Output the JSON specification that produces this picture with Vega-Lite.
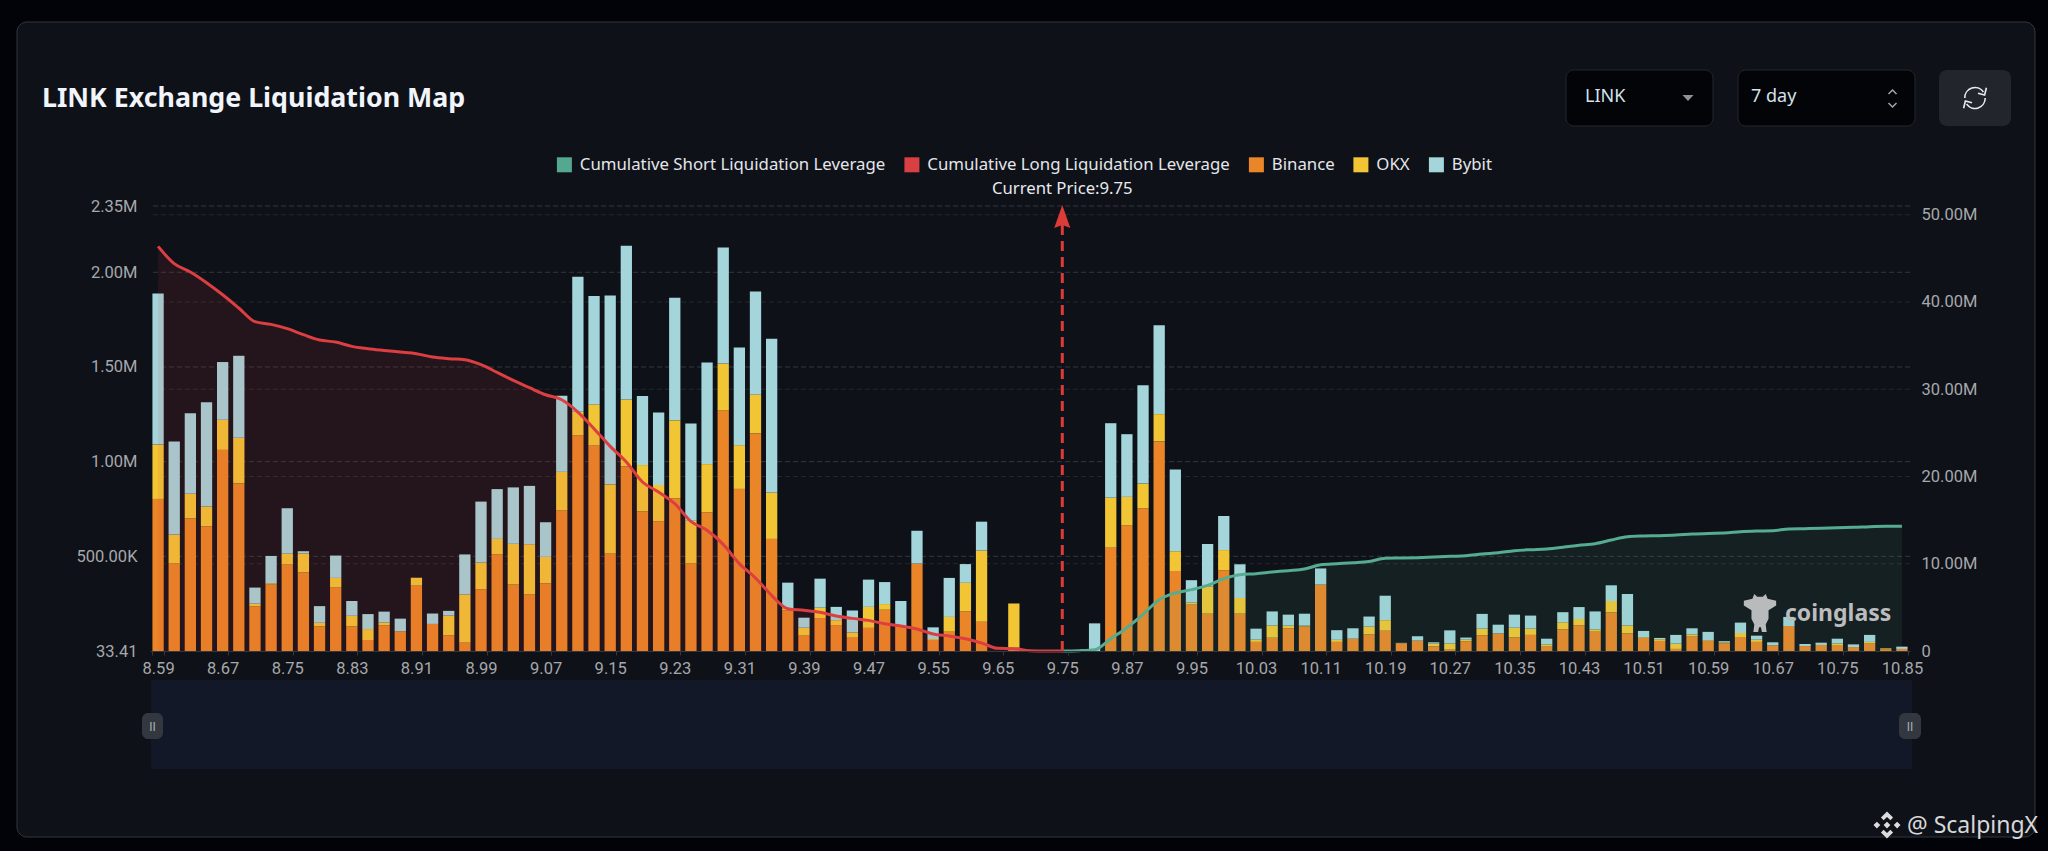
{
  "$schema": "https://vega.github.io/schema/vega-lite/v6.json",
  "width": 1760,
  "height": 445,
  "autosize": "none",
  "padding": {"left": 150, "top": 206, "right": 138, "bottom": 200},
  "background": "#020308",
  "title": {
    "text": "LINK Exchange Liquidation Map",
    "anchor": "start",
    "frame": "group",
    "dx": -108,
    "offset": -91.5,
    "font": "Noto Sans",
    "fontSize": 26.75,
    "fontWeight": 700,
    "color": "#f1f4fa"
  },
  "datasets": {
    "liq": [
      {"price":"8.59","Binance":803000,"OKX":287000,"Bybit":798000,"long":46370000},
      {"price":"8.61","Binance":462000,"OKX":153000,"Bybit":492000,"long":44390000},
      {"price":"8.63","Binance":700000,"OKX":130000,"Bybit":425000,"long":43430000},
      {"price":"8.65","Binance":659000,"OKX":104000,"Bybit":550000,"long":42210000},
      {"price":"8.67","Binance":1062000,"OKX":159000,"Bybit":305000,"long":40830000},
      {"price":"8.69","Binance":885000,"OKX":241000,"Bybit":433000,"long":39310000},
      {"price":"8.71","Binance":236000,"OKX":14000,"Bybit":85000,"long":37740000},
      {"price":"8.73","Binance":351000,"OKX":7000,"Bybit":144000,"long":37430000},
      {"price":"8.75","Binance":456000,"OKX":58000,"Bybit":240000,"long":36940000},
      {"price":"8.77","Binance":416000,"OKX":99000,"Bybit":12000,"long":36250000},
      {"price":"8.79","Binance":130000,"OKX":19000,"Bybit":88000,"long":35640000},
      {"price":"8.81","Binance":335000,"OKX":51000,"Bybit":118000,"long":35410000},
      {"price":"8.83","Binance":130000,"OKX":56000,"Bybit":78000,"long":34910000},
      {"price":"8.85","Binance":58000,"OKX":58000,"Bybit":79000,"long":34650000},
      {"price":"8.87","Binance":136000,"OKX":14000,"Bybit":58000,"long":34450000},
      {"price":"8.89","Binance":104000,"OKX":0,"Bybit":67000,"long":34260000},
      {"price":"8.91","Binance":345000,"OKX":42000,"Bybit":0,"long":34070000},
      {"price":"8.93","Binance":143000,"OKX":0,"Bybit":55000,"long":33690000},
      {"price":"8.95","Binance":83000,"OKX":104000,"Bybit":25000,"long":33500000},
      {"price":"8.97","Binance":44000,"OKX":255000,"Bybit":211000,"long":33380000},
      {"price":"8.99","Binance":326000,"OKX":141000,"Bybit":322000,"long":32810000},
      {"price":"9.01","Binance":511000,"OKX":81000,"Bybit":263000,"long":31930000},
      {"price":"9.03","Binance":351000,"OKX":215000,"Bybit":298000,"long":31020000},
      {"price":"9.05","Binance":300000,"OKX":264000,"Bybit":308000,"long":30180000},
      {"price":"9.07","Binance":358000,"OKX":139000,"Bybit":183000,"long":29370000},
      {"price":"9.09","Binance":742000,"OKX":204000,"Bybit":402000,"long":28800000},
      {"price":"9.11","Binance":1138000,"OKX":125000,"Bybit":714000,"long":27390000},
      {"price":"9.13","Binance":1085000,"OKX":217000,"Bybit":573000,"long":25480000},
      {"price":"9.15","Binance":514000,"OKX":366000,"Bybit":997000,"long":23450000},
      {"price":"9.17","Binance":976000,"OKX":352000,"Bybit":812000,"long":21660000},
      {"price":"9.19","Binance":737000,"OKX":245000,"Bybit":365000,"long":19370000},
      {"price":"9.21","Binance":685000,"OKX":192000,"Bybit":382000,"long":18220000},
      {"price":"9.23","Binance":807000,"OKX":411000,"Bybit":648000,"long":16880000},
      {"price":"9.25","Binance":462000,"OKX":226000,"Bybit":513000,"long":14860000},
      {"price":"9.27","Binance":733000,"OKX":254000,"Bybit":537000,"long":13830000},
      {"price":"9.29","Binance":1270000,"OKX":248000,"Bybit":613000,"long":12220000},
      {"price":"9.31","Binance":856000,"OKX":231000,"Bybit":516000,"long":10010000},
      {"price":"9.33","Binance":1149000,"OKX":206000,"Bybit":543000,"long":8370000},
      {"price":"9.35","Binance":592000,"OKX":245000,"Bybit":812000,"long":6380000},
      {"price":"9.37","Binance":215000,"OKX":9000,"Bybit":137000,"long":4850000},
      {"price":"9.39","Binance":81000,"OKX":42000,"Bybit":53000,"long":4660000},
      {"price":"9.41","Binance":174000,"OKX":55000,"Bybit":153000,"long":4430000},
      {"price":"9.43","Binance":137000,"OKX":26000,"Bybit":70000,"long":4010000},
      {"price":"9.45","Binance":70000,"OKX":28000,"Bybit":116000,"long":3740000},
      {"price":"9.47","Binance":122000,"OKX":111000,"Bybit":144000,"long":3510000},
      {"price":"9.49","Binance":218000,"OKX":30000,"Bybit":116000,"long":3130000},
      {"price":"9.51","Binance":127000,"OKX":0,"Bybit":137000,"long":2860000},
      {"price":"9.53","Binance":462000,"OKX":0,"Bybit":173000,"long":2520000},
      {"price":"9.55","Binance":58000,"OKX":5000,"Bybit":62000,"long":1950000},
      {"price":"9.57","Binance":102000,"OKX":78000,"Bybit":206000,"long":1720000},
      {"price":"9.59","Binance":210000,"OKX":150000,"Bybit":99000,"long":1410000},
      {"price":"9.61","Binance":155000,"OKX":375000,"Bybit":153000,"long":920000},
      {"price":"9.65","Binance":0,"OKX":0,"Bybit":0,"long":310000},
      {"price":"9.67","Binance":18000,"OKX":233000,"Bybit":0,"long":270000},
      {"price":"9.69","Binance":0,"OKX":0,"Bybit":0,"long":40000},
      {"price":"9.71","Binance":0,"OKX":0,"Bybit":0,"long":0},
      {"price":"9.75","Binance":0,"OKX":0,"Bybit":0,"long":0,"short":0},
      {"price":"9.78","Binance":0,"OKX":0,"Bybit":0,"short":40000},
      {"price":"9.81","Binance":0,"OKX":0,"Bybit":146000,"short":150000},
      {"price":"9.84","Binance":546000,"OKX":264000,"Bybit":393000,"short":1410000},
      {"price":"9.87","Binance":664000,"OKX":150000,"Bybit":331000,"short":2670000},
      {"price":"9.89","Binance":754000,"OKX":130000,"Bybit":520000,"short":4200000},
      {"price":"9.91","Binance":1107000,"OKX":144000,"Bybit":469000,"short":5880000},
      {"price":"9.93","Binance":423000,"OKX":104000,"Bybit":432000,"short":6650000},
      {"price":"9.95","Binance":245000,"OKX":11000,"Bybit":118000,"short":7030000},
      {"price":"9.97","Binance":197000,"OKX":144000,"Bybit":224000,"short":7520000},
      {"price":"9.99","Binance":426000,"OKX":107000,"Bybit":180000,"short":8290000},
      {"price":"10.01","Binance":197000,"OKX":83000,"Bybit":178000,"short":8750000},
      {"price":"10.03","Binance":48000,"OKX":12000,"Bybit":58000,"short":8860000},
      {"price":"10.05","Binance":70000,"OKX":65000,"Bybit":74000,"short":9050000},
      {"price":"10.07","Binance":120000,"OKX":14000,"Bybit":58000,"short":9210000},
      {"price":"10.09","Binance":130000,"OKX":4000,"Bybit":63000,"short":9400000},
      {"price":"10.11","Binance":351000,"OKX":0,"Bybit":85000,"short":9890000},
      {"price":"10.13","Binance":48000,"OKX":11000,"Bybit":51000,"short":10010000},
      {"price":"10.15","Binance":65000,"OKX":0,"Bybit":55000,"short":10120000},
      {"price":"10.17","Binance":88000,"OKX":41000,"Bybit":53000,"short":10270000},
      {"price":"10.19","Binance":107000,"OKX":56000,"Bybit":129000,"short":10620000},
      {"price":"10.21","Binance":41000,"OKX":0,"Bybit":2000,"short":10660000},
      {"price":"10.23","Binance":55000,"OKX":0,"Bybit":23000,"short":10700000},
      {"price":"10.25","Binance":25000,"OKX":14000,"Bybit":7000,"short":10770000},
      {"price":"10.27","Binance":7000,"OKX":33000,"Bybit":69000,"short":10850000},
      {"price":"10.29","Binance":51000,"OKX":9000,"Bybit":11000,"short":10920000},
      {"price":"10.31","Binance":83000,"OKX":35000,"Bybit":78000,"short":11120000},
      {"price":"10.33","Binance":93000,"OKX":0,"Bybit":46000,"short":11270000},
      {"price":"10.35","Binance":72000,"OKX":51000,"Bybit":69000,"short":11500000},
      {"price":"10.37","Binance":85000,"OKX":33000,"Bybit":69000,"short":11610000},
      {"price":"10.39","Binance":23000,"OKX":12000,"Bybit":30000,"short":11690000},
      {"price":"10.41","Binance":115000,"OKX":37000,"Bybit":53000,"short":11880000},
      {"price":"10.43","Binance":136000,"OKX":33000,"Bybit":63000,"short":12110000},
      {"price":"10.45","Binance":102000,"OKX":12000,"Bybit":95000,"short":12300000},
      {"price":"10.47","Binance":204000,"OKX":60000,"Bybit":83000,"short":12720000},
      {"price":"10.49","Binance":93000,"OKX":42000,"Bybit":166000,"short":13100000},
      {"price":"10.51","Binance":69000,"OKX":4000,"Bybit":33000,"short":13180000},
      {"price":"10.53","Binance":53000,"OKX":9000,"Bybit":7000,"short":13220000},
      {"price":"10.55","Binance":11000,"OKX":28000,"Bybit":46000,"short":13290000},
      {"price":"10.57","Binance":76000,"OKX":12000,"Bybit":32000,"short":13410000},
      {"price":"10.59","Binance":53000,"OKX":4000,"Bybit":44000,"short":13480000},
      {"price":"10.61","Binance":41000,"OKX":4000,"Bybit":7000,"short":13520000},
      {"price":"10.63","Binance":74000,"OKX":21000,"Bybit":55000,"short":13670000},
      {"price":"10.65","Binance":48000,"OKX":12000,"Bybit":21000,"short":13750000},
      {"price":"10.67","Binance":30000,"OKX":0,"Bybit":16000,"short":13790000},
      {"price":"10.69","Binance":132000,"OKX":0,"Bybit":48000,"short":13980000},
      {"price":"10.71","Binance":26000,"OKX":0,"Bybit":11000,"short":14020000},
      {"price":"10.73","Binance":32000,"OKX":0,"Bybit":12000,"short":14060000},
      {"price":"10.75","Binance":28000,"OKX":12000,"Bybit":25000,"short":14130000},
      {"price":"10.77","Binance":21000,"OKX":0,"Bybit":14000,"short":14170000},
      {"price":"10.79","Binance":39000,"OKX":9000,"Bybit":37000,"short":14250000},
      {"price":"10.81","Binance":9000,"OKX":5000,"Bybit":0,"short":14290000},
      {"price":"10.85","Binance":11000,"OKX":0,"Bybit":12000,"short":14290000}
    ]
  },
  "layer": [
    {
      "data": {"values": [{}]},
      "layer": [
        {
          "mark": {"type": "rect", "fill": "#0e1118", "stroke": "#34373d", "strokeWidth": 1, "cornerRadius": 10},
          "encoding": {
            "x": {"datum": 17, "type": "quantitative", "axis": null, "scale": {"domain": [0, 2048], "range": [-150, 1898], "nice": false, "zero": false}},
            "x2": {"datum": 2035},
            "y": {"datum": 22, "type": "quantitative", "axis": null, "scale": {"domain": [0, 851], "range": [-206, 645], "nice": false, "zero": false}},
            "y2": {"datum": 837}
          }
        },
        {
          "mark": {"type": "rect", "fill": "#121827"},
          "encoding": {
            "x": {"datum": 151, "type": "quantitative", "axis": null},
            "x2": {"datum": 1912},
            "y": {"datum": 680, "type": "quantitative", "axis": null},
            "y2": {"datum": 769}
          }
        },
        {
          "mark": {"type": "rect", "fill": "#030408", "stroke": "#23262b", "cornerRadius": 8},
          "encoding": {
            "x": {"datum": 1566, "type": "quantitative", "axis": null},
            "x2": {"datum": 1713},
            "y": {"datum": 70, "type": "quantitative", "axis": null},
            "y2": {"datum": 126}
          }
        },
        {
          "mark": {"type": "rect", "fill": "#030408", "stroke": "#23262b", "cornerRadius": 8},
          "encoding": {
            "x": {"datum": 1738, "type": "quantitative", "axis": null},
            "x2": {"datum": 1915},
            "y": {"datum": 70, "type": "quantitative", "axis": null},
            "y2": {"datum": 126}
          }
        },
        {
          "mark": {"type": "rect", "fill": "#22252c", "cornerRadius": 8},
          "encoding": {
            "x": {"datum": 1939, "type": "quantitative", "axis": null},
            "x2": {"datum": 2011},
            "y": {"datum": 70, "type": "quantitative", "axis": null},
            "y2": {"datum": 126}
          }
        }
      ]
    },
    {
      "layer": [
        {
          "data": {"values": [{"level": 500000}, {"level": 1000000}, {"level": 1500000}, {"level": 2000000}, {"level": 2350000}]},
          "mark": {"type": "rule", "stroke": "#34373c", "strokeWidth": 1, "strokeDash": [5, 3]},
          "encoding": {
            "y": {"field": "level", "type": "quantitative", "axis": null, "scale": {"domain": [33.41, 2350000], "nice": false, "zero": false}}
          }
        },
        {
          "data": {"values": [{"level": 10000000}, {"level": 20000000}, {"level": 30000000}, {"level": 40000000}, {"level": 50000000}]},
          "mark": {"type": "rule", "stroke": "#25282d", "strokeWidth": 1, "strokeDash": [5, 3]},
          "encoding": {
            "y": {"field": "level", "type": "quantitative", "axis": null, "scale": {"domain": [0, 51000000], "nice": false}}
          }
        },
        {
          "data": {"name": "liq"},
          "transform": [
            {"fold": ["Binance", "OKX", "Bybit"], "as": ["exchange", "value"]},
            {"window": [{"op": "row_number", "as": "rank"}], "groupby": ["price"]}
          ],
          "mark": {"type": "bar"},
          "encoding": {
            "x": {
              "field": "price",
              "type": "nominal",
              "sort": null,
              "title": null,
              "scale": {
                "paddingInner": 0.3,
                "paddingOuter": 0.15,
                "domain": ["8.59","8.61","8.63","8.65","8.67","8.69","8.71","8.73","8.75","8.77","8.79","8.81","8.83","8.85","8.87","8.89","8.91","8.93","8.95","8.97","8.99","9.01","9.03","9.05","9.07","9.09","9.11","9.13","9.15","9.17","9.19","9.21","9.23","9.25","9.27","9.29","9.31","9.33","9.35","9.37","9.39","9.41","9.43","9.45","9.47","9.49","9.51","9.53","9.55","9.57","9.59","9.61","9.65","9.67","9.69","9.71","9.75","9.78","9.81","9.84","9.87","9.89","9.91","9.93","9.95","9.97","9.99","10.01","10.03","10.05","10.07","10.09","10.11","10.13","10.15","10.17","10.19","10.21","10.23","10.25","10.27","10.29","10.31","10.33","10.35","10.37","10.39","10.41","10.43","10.45","10.47","10.49","10.51","10.53","10.55","10.57","10.59","10.61","10.63","10.65","10.67","10.69","10.71","10.73","10.75","10.77","10.79","10.81","10.85"]
              },
              "axis": {
                "orient": "bottom",
                "values": ["8.59","8.67","8.75","8.83","8.91","8.99","9.07","9.15","9.23","9.31","9.39","9.47","9.55","9.65","9.75","9.87","9.95","10.03","10.11","10.19","10.27","10.35","10.43","10.51","10.59","10.67","10.75","10.85"],
                "labelAngle": 0,
                "tickBand": "extent",
                "tickSize": 4,
                "tickColor": "#34373c",
                "domainColor": "#34373c",
                "labelPadding": 5,
                "labelOverlap": false,
                "labelFlush": false,
                "grid": false,
                "zindex": 1
              }
            },
            "y": {
              "field": "value",
              "type": "quantitative",
              "stack": "zero",
              "title": null,
              "scale": {"domain": [33.41, 2350000], "nice": false, "zero": false},
              "axis": {
                "orient": "left",
                "values": [33.41, 500000, 1000000, 1500000, 2000000, 2350000],
                "labelExpr": "datum.value >= 1000000 ? format(datum.value / 1000000, '.2f') + 'M' : datum.value >= 1000 ? format(datum.value / 1000, '.2f') + 'K' : format(datum.value, '.2f')",
                "grid": false,
                "domain": false,
                "ticks": false,
                "labelPadding": 13,
                "zindex": 1
              }
            },
            "color": {
              "field": "exchange",
              "type": "nominal",
              "scale": {
                "domain": ["Cumulative Short Liquidation Leverage", "Cumulative Long Liquidation Leverage", "Binance", "OKX", "Bybit"],
                "range": ["#55a890", "#d94044", "#ea8627", "#f2c535", "#a3d5da"]
              },
              "legend": {
                "title": null,
                "orient": "none",
                "legendX": 406,
                "legendY": -50,
                "direction": "horizontal",
                "symbolType": "square",
                "symbolSize": 225,
                "symbolOpacity": 1,
                "symbolStrokeWidth": 0,
                "labelFont": "Noto Sans",
                "labelFontSize": 16.8,
                "labelColor": "#e4e6ea",
                "labelOffset": 7,
                "columnPadding": 17.5,
                "labelLimit": 400
              }
            },
            "order": {"field": "rank", "type": "quantitative"}
          }
        },
        {
          "data": {"name": "liq"},
          "mark": {"type": "area", "interpolate": "monotone", "fill": "#e03c3c", "opacity": 0.1},
          "encoding": {
            "x": {"field": "price", "type": "nominal", "sort": null, "axis": null},
            "y": {"field": "long", "type": "quantitative", "axis": null, "scale": {"domain": [0, 51000000], "nice": false}}
          }
        },
        {
          "data": {"name": "liq"},
          "mark": {"type": "area", "interpolate": "monotone", "fill": "#5fbfa0", "opacity": 0.09},
          "encoding": {
            "x": {"field": "price", "type": "nominal", "sort": null, "axis": null},
            "y": {"field": "short", "type": "quantitative", "axis": null, "scale": {"domain": [0, 51000000], "nice": false}}
          }
        },
        {
          "data": {"name": "liq"},
          "mark": {"type": "line", "interpolate": "monotone", "stroke": "#dc3e42", "strokeWidth": 3},
          "encoding": {
            "x": {"field": "price", "type": "nominal", "sort": null, "axis": null},
            "y": {
              "field": "long",
              "type": "quantitative",
              "title": null,
              "scale": {"domain": [0, 51000000], "nice": false},
              "axis": {
                "orient": "right",
                "values": [0, 10000000, 20000000, 30000000, 40000000, 50000000],
                "labelExpr": "datum.value == 0 ? '0' : format(datum.value / 1000000, '.2f') + 'M'",
                "grid": false,
                "domain": false,
                "ticks": false,
                "labelPadding": 11,
                "zindex": 1
              }
            }
          }
        },
        {
          "data": {"name": "liq"},
          "mark": {"type": "line", "interpolate": "monotone", "stroke": "#55ac91", "strokeWidth": 3},
          "encoding": {
            "x": {"field": "price", "type": "nominal", "sort": null, "axis": null},
            "y": {"field": "short", "type": "quantitative", "axis": null, "scale": {"domain": [0, 51000000], "nice": false}}
          }
        },
        {
          "data": {"name": "liq"},
          "transform": [{"filter": "datum.price == '9.75'"}],
          "mark": {"type": "rule", "stroke": "#dc3c37", "strokeWidth": 3, "strokeDash": [10, 6]},
          "encoding": {
            "x": {"field": "price", "type": "nominal", "sort": null, "axis": null},
            "y": {"datum": 33.41, "type": "quantitative", "axis": null, "scale": {"domain": [33.41, 2350000], "nice": false, "zero": false}},
            "y2": {"datum": 2250000}
          }
        },
        {
          "data": {"name": "liq"},
          "transform": [{"filter": "datum.price == '9.75'"}],
          "mark": {"type": "point", "shape": "M0,-1L.7,1L0,.72L-.7,1Z", "size": 529, "filled": true, "fill": "#dc3c37", "opacity": 1},
          "encoding": {
            "x": {"field": "price", "type": "nominal", "sort": null, "axis": null},
            "y": {"datum": 2294000, "type": "quantitative", "axis": null, "scale": {"domain": [33.41, 2350000], "nice": false, "zero": false}}
          }
        },
        {
          "data": {"name": "liq"},
          "transform": [{"filter": "datum.price == '9.75'"}],
          "mark": {"type": "text", "text": "Current Price:9.75", "font": "Noto Sans", "fontSize": 16.7, "color": "#e8eaee", "align": "center", "baseline": "middle"},
          "encoding": {
            "x": {"field": "price", "type": "nominal", "sort": null, "axis": null},
            "y": {"datum": 2440000, "type": "quantitative", "axis": null, "scale": {"domain": [33.41, 2350000], "nice": false, "zero": false}}
          }
        }
      ],
      "resolve": {"scale": {"y": "independent"}, "axis": {"x": "independent"}}
    },
    {
      "data": {"values": [{}]},
      "layer": [
        {
          "mark": {"type": "text", "text": "LINK", "font": "Noto Sans", "fontSize": 18, "color": "#d5e2ea", "align": "left", "baseline": "middle"},
          "encoding": {
            "x": {"datum": 1585, "type": "quantitative", "axis": null, "scale": {"domain": [0, 2048], "range": [-150, 1898], "nice": false, "zero": false}},
            "y": {"datum": 97, "type": "quantitative", "axis": null, "scale": {"domain": [0, 851], "range": [-206, 645], "nice": false, "zero": false}}
          }
        },
        {
          "mark": {"type": "text", "text": "7 day", "font": "Noto Sans", "fontSize": 18, "color": "#d5e2ea", "align": "left", "baseline": "middle"},
          "encoding": {
            "x": {"datum": 1751, "type": "quantitative", "axis": null},
            "y": {"datum": 97, "type": "quantitative", "axis": null}
          }
        },
        {
          "mark": {"type": "point", "shape": "M-1,-.55L1,-.55L0,.55Z", "size": 121, "filled": true, "fill": "#8f9297", "opacity": 1},
          "encoding": {
            "x": {"datum": 1688, "type": "quantitative", "axis": null},
            "y": {"datum": 98, "type": "quantitative", "axis": null}
          }
        },
        {
          "mark": {"type": "point", "shape": "M-1,.5L0,-.5L1,.5", "size": 64, "filled": false, "stroke": "#a4a6a9", "strokeWidth": 1.5, "opacity": 1},
          "encoding": {
            "x": {"datum": 1892.5, "type": "quantitative", "axis": null},
            "y": {"datum": 92, "type": "quantitative", "axis": null}
          }
        },
        {
          "mark": {"type": "point", "shape": "M-1,-.5L0,.5L1,-.5", "size": 64, "filled": false, "stroke": "#a4a6a9", "strokeWidth": 1.5, "opacity": 1},
          "encoding": {
            "x": {"datum": 1892.5, "type": "quantitative", "axis": null},
            "y": {"datum": 105, "type": "quantitative", "axis": null}
          }
        },
        {
          "mark": {"type": "point", "shape": "M-.85,0A.85,.85 0 0 1 .7,-.5M.95,-.85L.8,-.25L.25,-.4M.85,0A.85,.85 0 0 1 -.7,.5M-.95,.85L-.8,.25L-.25,.4", "size": 576, "filled": false, "stroke": "#e8eaee", "strokeWidth": 1.6, "opacity": 1},
          "encoding": {
            "x": {"datum": 1975, "type": "quantitative", "axis": null},
            "y": {"datum": 98, "type": "quantitative", "axis": null}
          }
        },
        {
          "mark": {"type": "rect", "fill": "#33373f", "cornerRadius": 6},
          "encoding": {
            "x": {"datum": 142, "type": "quantitative", "axis": null},
            "x2": {"datum": 163},
            "y": {"datum": 713, "type": "quantitative", "axis": null},
            "y2": {"datum": 739}
          }
        },
        {
          "mark": {"type": "rect", "fill": "#33373f", "cornerRadius": 6},
          "encoding": {
            "x": {"datum": 1899, "type": "quantitative", "axis": null},
            "x2": {"datum": 1921},
            "y": {"datum": 713, "type": "quantitative", "axis": null},
            "y2": {"datum": 739}
          }
        },
        {
          "mark": {"type": "text", "text": "II", "font": "Roboto", "fontSize": 12, "color": "#a9b3b8", "align": "center", "baseline": "middle"},
          "encoding": {
            "x": {"datum": 152.5, "type": "quantitative", "axis": null},
            "y": {"datum": 726.5, "type": "quantitative", "axis": null}
          }
        },
        {
          "mark": {"type": "text", "text": "II", "font": "Roboto", "fontSize": 12, "color": "#a9b3b8", "align": "center", "baseline": "middle"},
          "encoding": {
            "x": {"datum": 1910, "type": "quantitative", "axis": null},
            "y": {"datum": 726.5, "type": "quantitative", "axis": null}
          }
        },
        {
          "mark": {"type": "point", "shape": "M-.3,-1L-.15,-.85L.15,-.85L.3,-1L.4,-.75L.85,-.65L.85,-.4L.45,-.15L.45,.3L.3,.6L.35,1L.1,1L.05,.75L-.05,.75L-.1,1L-.35,1L-.3,.6L-.45,.3L-.45,-.15L-.85,-.4L-.85,-.65L-.4,-.75Z", "size": 1444, "filled": true, "fill": "#b9babb", "opacity": 1},
          "encoding": {
            "x": {"datum": 1760, "type": "quantitative", "axis": null},
            "y": {"datum": 613, "type": "quantitative", "axis": null}
          }
        },
        {
          "mark": {"type": "text", "text": "coinglass", "font": "Noto Sans", "fontSize": 23, "fontWeight": 700, "color": "#bbbcbd", "align": "left", "baseline": "alphabetic"},
          "encoding": {
            "x": {"datum": 1785, "type": "quantitative", "axis": null},
            "y": {"datum": 621, "type": "quantitative", "axis": null}
          }
        },
        {
          "mark": {"type": "point", "shape": "M0,-1L.45,-.55L.25,-.35L0,-.6L-.25,-.35L-.45,-.55ZM0,1L.45,.55L.25,.35L0,.6L-.25,.35L-.45,.55ZM0,-.25L.25,0L0,.25L-.25,0ZM-.75,-.25L-.5,0L-.75,.25L-1,0ZM.75,-.25L1,0L.75,.25L.5,0Z", "size": 729, "filled": true, "fill": "#dcdcdc", "opacity": 1},
          "encoding": {
            "x": {"datum": 1887, "type": "quantitative", "axis": null},
            "y": {"datum": 825, "type": "quantitative", "axis": null}
          }
        },
        {
          "mark": {"type": "text", "text": "@ ScalpingX", "font": "Noto Sans", "fontSize": 23, "color": "#d8d8d8", "align": "left", "baseline": "alphabetic"},
          "encoding": {
            "x": {"datum": 1907, "type": "quantitative", "axis": null},
            "y": {"datum": 833, "type": "quantitative", "axis": null}
          }
        }
      ]
    }
  ],
  "resolve": {"scale": {"x": "independent", "y": "independent"}, "axis": {"x": "independent"}},
  "config": {
    "view": {"stroke": null},
    "axis": {
      "labelFont": "Roboto",
      "labelFontSize": 16.5,
      "labelColor": "#a6a8ab"
    }
  }
}
